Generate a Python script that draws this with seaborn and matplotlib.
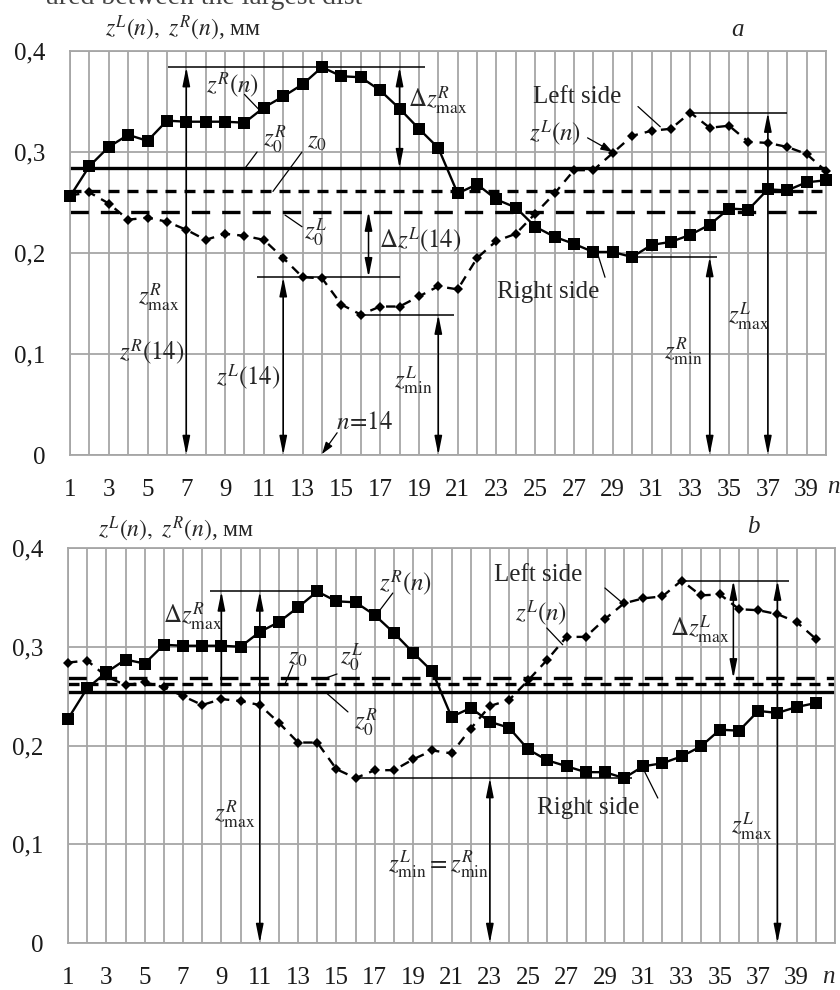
import numpy as np
import pandas as pd
import matplotlib
matplotlib.use("Agg")
import matplotlib.pyplot as plt
import seaborn as sns

sns.set_style("white")
plt.rcParams["font.family"] = ["Liberation Serif", "DejaVu Serif"]
plt.rcParams["mathtext.fontset"] = "stix"

# ========== Data ==========
n = np.arange(1, 41)

# panel a
zR_a = [0.256, 0.286, 0.305, 0.317, 0.311, 0.331, 0.330, 0.330, 0.330, 0.329,
        0.344, 0.355, 0.367, 0.384, 0.375, 0.374, 0.361, 0.343, 0.323, 0.304,
        0.259, 0.268, 0.253, 0.245, 0.226, 0.216, 0.209, 0.201, 0.201, 0.196,
        0.208, 0.211, 0.218, 0.228, 0.244, 0.243, 0.263, 0.262, 0.270, 0.272]
zL_a = [0.257, 0.260, 0.249, 0.233, 0.235, 0.231, 0.223, 0.213, 0.219, 0.217,
        0.213, 0.195, 0.176, 0.175, 0.149, 0.139, 0.147, 0.147, 0.157, 0.167,
        0.164, 0.195, 0.212, 0.219, 0.239, 0.259, 0.282, 0.282, 0.299, 0.316,
        0.321, 0.323, 0.339, 0.324, 0.326, 0.310, 0.309, 0.305, 0.298, 0.281]
z0R_a, z0_a, z0L_a = 0.284, 0.261, 0.241

# panel b
zR_b = [0.227, 0.258, 0.274, 0.287, 0.283, 0.302, 0.301, 0.301, 0.301, 0.300,
        0.315, 0.325, 0.340, 0.356, 0.346, 0.345, 0.332, 0.314, 0.294, 0.275,
        0.229, 0.238, 0.224, 0.218, 0.196, 0.185, 0.179, 0.173, 0.173, 0.167,
        0.179, 0.182, 0.189, 0.199, 0.216, 0.215, 0.235, 0.233, 0.239, 0.243]
zL_b = [0.284, 0.286, 0.270, 0.261, 0.264, 0.259, 0.250, 0.241, 0.247, 0.245,
        0.241, 0.223, 0.203, 0.203, 0.176, 0.167, 0.175, 0.175, 0.186, 0.195,
        0.192, 0.217, 0.240, 0.246, 0.266, 0.287, 0.310, 0.310, 0.328, 0.344,
        0.349, 0.351, 0.367, 0.352, 0.353, 0.338, 0.337, 0.333, 0.325, 0.308]
z0R_b, z0_b, z0L_b = 0.2545, 0.262, 0.268

y_ticks = [0, 0.1, 0.2, 0.3, 0.4]
y_labels = ["0", "0,1", "0,2", "0,3", "0,4"]

GRID = "#a6a6a6"
FS = 18


# ---------- helpers ----------
def vdouble(ax, x, y0, y1, style="<|-|>"):
    ax.annotate("", xy=(x, y1), xytext=(x, y0),
                arrowprops=dict(arrowstyle=f"{style},head_length=0.75,head_width=0.15",
                                color="black", lw=1.1, shrinkA=0, shrinkB=0,
                                mutation_scale=15))


def leader(ax, x0, y0, x1, y1, arrow=False):
    if arrow:
        ax.annotate("", xy=(x1, y1), xytext=(x0, y0),
                    arrowprops=dict(arrowstyle="-|>,head_length=0.6,head_width=0.2",
                                    color="black", lw=0.9, shrinkA=0, shrinkB=0,
                                    mutation_scale=12))
    else:
        ax.plot([x0, x1], [y0, y1], color="black", lw=0.9)


def label(ax, x, y, s, size=FS, **kw):
    ax.text(x, y, s, ha="center", va="center", fontsize=size, **kw)


def base_panel(ax, zR, zL, z0R, z0, z0L, xmax, xpad):
    df = pd.DataFrame({"n": n, "Right": zR, "Left": zL})
    ax.axhline(z0R, color="black", lw=2.4, zorder=2)
    ax.axhline(z0, color="black", lw=2.4, dashes=(3.3, 2.4), zorder=2)
    ax.axhline(z0L, color="black", lw=2.4, dashes=(5.5, 3.6), zorder=2)
    sns.lineplot(data=df, x="n", y="Right", ax=ax, color="black", lw=1.7,
                 marker="s", markersize=8, markeredgewidth=0, clip_on=False, zorder=4)
    sns.lineplot(data=df, x="n", y="Left", ax=ax, color="black", lw=1.7,
                 linestyle=(0, (4, 3)), marker="D", markersize=5.5,
                 markeredgewidth=0, clip_on=False, zorder=4)

    ax.set_xlim(1, xmax)
    ax.set_ylim(0, 0.4)
    ax.set_xticks(range(1, xmax + 1))
    ax.set_xticklabels([str(i) if (i % 2 == 1 and i < 40) else "" for i in range(1, xmax + 1)])
    ax.set_yticks(y_ticks)
    ax.set_yticklabels(y_labels)
    ax.set_xlabel("")
    ax.set_ylabel("")
    ax.grid(True, color=GRID, lw=1.3)
    ax.set_axisbelow(True)
    ax.tick_params(axis="both", color=GRID, width=1.3, length=7, direction="out",
                   labelsize=FS, labelcolor="#1a1a1a")
    ax.tick_params(axis="y", pad=11)
    ax.tick_params(axis="x", pad=xpad)
    for sp in ax.spines.values():
        sp.set_color(GRID)
        sp.set_linewidth(1.3)


fig = plt.figure(figsize=(8.4, 9.9), dpi=100)
W, H = 840, 990

# caption fragment cut by the top edge
fig.text(45 / W, 1 - 4 / H, "ured between the largest dist", fontsize=20, color="#444444",
         ha="left", va="baseline")

# ========== panel a ==========
ax = fig.add_axes([70 / W, (H - 455) / H, 756 / W, 404 / H])
base_panel(ax, zR_a, zL_a, z0R_a, z0_a, z0L_a, 40, 10)

zRmax = max(zR_a)
zLmin = min(zL_a)
zRmin = min(zR_a)
zLmax = max(zL_a)
zL14 = zL_a[12]

ax.hlines(zRmax, 6.06, 19.3, color="black", lw=1.1)
ax.hlines(zL14, 10.65, 18.03, color="black", lw=1.1)
ax.hlines(zLmin, 16, 20.8, color="black", lw=1.1)
ax.hlines(zRmin, 30, 34.4, color="black", lw=1.1)
ax.hlines(zLmax, 33, 38, color="black", lw=1.1)

vdouble(ax, 7, 0, zRmax)
vdouble(ax, 12, 0, zL14)
vdouble(ax, 16.4, zL14, z0L_a)
vdouble(ax, 18, z0R_a, zRmax)
vdouble(ax, 20, 0, zLmin)
vdouble(ax, 34, 0, zRmin)
vdouble(ax, 37, 0, zLmax)

label(ax, 9.4, 0.366, r"$z^{R}\left(n\right)$")
leader(ax, 10.0, 0.357, 10.75, 0.342)
ax.text(18.45, 0.351, r"$\Delta z^{R}_{\max}$", ha="left", va="center", fontsize=FS)
label(ax, 27.16, 0.354, "Left side")
leader(ax, 30.3, 0.345, 31.45, 0.325)
label(ax, 26.0, 0.319, r"$z^{L}\left(n\right)$")
leader(ax, 27.7, 0.314, 29.0, 0.300, arrow=True)
label(ax, 11.55, 0.312, r"$z^{R}_{0}$")
leader(ax, 10.65, 0.300, 10.03, z0R_a)
label(ax, 13.75, 0.310, r"$z_{0}$")
leader(ax, 12.97, 0.300, 11.47, z0_a)
label(ax, 13.65, 0.220, r"$z^{L}_{0}$")
leader(ax, 12.97, 0.226, 12.09, 0.2376)
label(ax, 19.06, 0.213, r"$\Delta z^{L}\left(14\right)$")
label(ax, 5.6, 0.156, r"$z^{R}_{\max}$")
label(ax, 5.2, 0.102, r"$z^{R}\left(14\right)$")
label(ax, 10.2, 0.077, r"$z^{L}\left(14\right)$")
label(ax, 18.7, 0.074, r"$z^{L}_{\min}$")
label(ax, 16.2, 0.032, r"$n\!=\!14$")
leader(ax, 14.78, 0.022, 14.0, 0.001, arrow=True)
label(ax, 25.66, 0.161, "Right side")
leader(ax, 28.6, 0.176, 28.24, 0.198)
label(ax, 32.63, 0.102, r"$z^{R}_{\min}$")
label(ax, 36.04, 0.137, r"$z^{L}_{\max}$")

fig.text(183 / W, 1 - 28 / H, r"$z^{L}\left(n\right),\ z^{R}\left(n\right)$, мм",
         fontsize=17, ha="center", va="center")
fig.text(738 / W, 1 - 30 / H, "a", fontsize=FS, style="italic", ha="center", va="center")
fig.text(833 / W, 1 - 487 / H, "n", fontsize=FS, style="italic", ha="center", va="center")

# ========== panel b ==========
ax = fig.add_axes([68 / W, (H - 943) / H, 767 / W, 395 / H])
base_panel(ax, zR_b, zL_b, z0R_b, z0_b, z0L_b, 41, 10)

zRmax = max(zR_b)
zmin = min(zR_b)
zLmax = max(zL_b)

ax.hlines(zRmax, 8.4, 14, color="black", lw=1.1)
ax.hlines(zmin, 16, 30.4, color="black", lw=1.1)
ax.hlines(zLmax, 33, 38.6, color="black", lw=1.1)

vdouble(ax, 9, z0_b, zRmax, style="-|>")
vdouble(ax, 11, 0, zRmax)
vdouble(ax, 23, 0, zmin)
vdouble(ax, 35.7, z0L_b, zLmax)
vdouble(ax, 38, 0, zLmax)

label(ax, 18.6, 0.3646, r"$z^{R}\left(n\right)$")
leader(ax, 17.94, 0.3544, 17.27, 0.3372)
label(ax, 7.52, 0.330, r"$\Delta z^{R}_{\max}$")
label(ax, 13.0, 0.2886, r"$z_{0}$")
leader(ax, 12.73, 0.2815, 12.31, z0_b)
label(ax, 15.81, 0.2886, r"$z^{L}_{0}$")
leader(ax, 15.03, 0.2724, 14.40, z0L_b)
label(ax, 16.54, 0.2228, r"$z^{R}_{0}$")
leader(ax, 15.6, 0.234, 14.4, z0R_b)
label(ax, 25.5, 0.3727, "Left side")
leader(ax, 29.0, 0.3595, 29.94, 0.344)
label(ax, 25.66, 0.334, r"$z^{L}\left(n\right)$")
leader(ax, 25.97, 0.319, 26.8, 0.302)
label(ax, 33.95, 0.317, r"$\Delta z^{L}_{\max}$")
label(ax, 9.71, 0.1296, r"$z^{R}_{\max}$")
label(ax, 20.34, 0.079, r"$z^{L}_{\min}=z^{R}_{\min}$")
label(ax, 28.11, 0.1367, "Right side")
leader(ax, 31.76, 0.1468, 31.08, 0.1732)
label(ax, 36.66, 0.1175, r"$z^{L}_{\max}$")

fig.text(176 / W, 1 - 529 / H, r"$z^{L}\left(n\right),\ z^{R}\left(n\right)$, мм",
         fontsize=17, ha="center", va="center")
fig.text(753 / W, 1 - 527 / H, "b", fontsize=FS, style="italic", ha="center", va="center")
fig.text(828 / W, 1 - 977 / H, "n", fontsize=FS, style="italic", ha="center", va="center")

fig.savefig("out.png", dpi=100)
